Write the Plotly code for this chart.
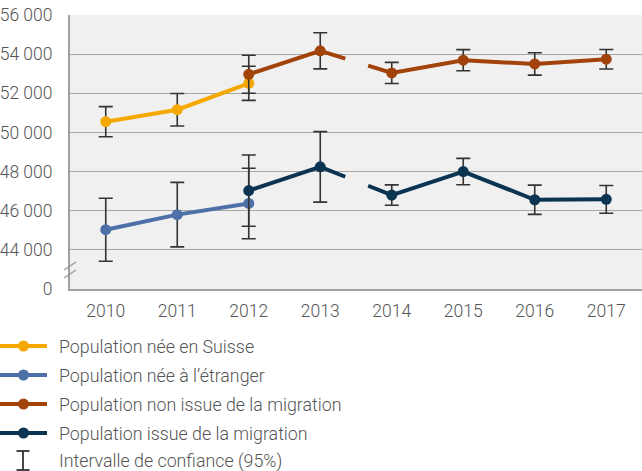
import plotly.graph_objects as go

# ---- data ----
years = ["2010", "2011", "2012", "2013", "2014", "2015", "2016", "2017"]
ytick_vals = [42000, 44000, 46000, 48000, 50000, 52000, 54000, 56000]
ytick_text = ["0", "44 000", "46 000", "48 000", "50 000", "52 000", "54 000", "56 000"]

names = [
    "Population née en Suisse",
    "Population née à l’étranger",
    "Population non issue de la migration",
    "Population issue de la migration",
]
ci_label = "Intervalle de confiance (95%)"

suisse_vals = [50550, 51160, 52510, None, None, None, None, None]
suisse_err = [770, 830, 870, None, None, None, None, None]
etranger_vals = [45030, 45800, 46370, None, None, None, None, None]
etranger_err = [1610, 1650, 1800, None, None, None, None, None]
non_migr_vals = [None, None, 52970, 54170, 53040, 53690, 53500, 53740]
non_migr_err = [None, None, 970, 925, 540, 540, 570, 500]
migr_vals = [None, None, 47030, 48240, 46800, 48000, 46560, 46580]
migr_err = [None, None, 1820, 1800, 520, 675, 745, 710]

colors = ["#F5A800", "#4D70A8", "#A1430A", "#0B3352"]
series = [
    (suisse_vals, suisse_err),
    (etranger_vals, etranger_err),
    (non_migr_vals, non_migr_err),
    (migr_vals, migr_err),
]

BREAK_AFTER = 3      # series break between 2013 and 2014
GAP = (0.35, 0.67)   # visible part of the broken segment

W, H = 642, 471
ML, MR, MT, MB = 70, 0, 15, 182
PW, PH = W - ML - MR, H - MT - MB


def px_x(px):
    return (px - ML) / PW


def px_y(py):
    return (H - MB - py) / PH


fig = go.Figure()

# lines (with series break)
for (vals, err), col in zip(series, colors):
    xs, ys = [], []
    for i, v in enumerate(vals):
        if v is None:
            continue
        xs.append(i)
        ys.append(v)
        if i == BREAK_AFTER and i + 1 < len(vals) and vals[i + 1] is not None:
            v2 = vals[i + 1]
            xs += [i + GAP[0], None, i + GAP[1]]
            ys += [v + GAP[0] * (v2 - v), None, v + GAP[1] * (v2 - v)]
    fig.add_trace(go.Scatter(x=xs, y=ys, mode="lines",
                             line=dict(color=col, width=4),
                             showlegend=False, hoverinfo="skip"))

# markers with confidence intervals
for (vals, err), col, nm in zip(series, colors, names):
    xs = [i for i, v in enumerate(vals) if v is not None]
    fig.add_trace(go.Scatter(
        x=xs, y=[vals[i] for i in xs], mode="markers", name=nm,
        marker=dict(color=col, size=11),
        error_y=dict(type="data", array=[err[i] for i in xs], visible=True,
                     color="#333333", thickness=1.6, width=7),
        showlegend=False))

shapes = []
annotations = []
font_col = "#555555"
FONT = dict(family="Roboto", size=17.5, color=font_col, weight=300)
LFONT = dict(family="Roboto", size=17.8, color=font_col, weight=300)
# manual legend
leg_y = [346, 375, 404, 433]
for nm, col, yy in zip(names, colors, leg_y):
    shapes.append(dict(type="line", xref="paper", yref="paper",
                       x0=px_x(0), x1=px_x(47), y0=px_y(yy), y1=px_y(yy),
                       line=dict(color=col, width=4)))
    shapes.append(dict(type="circle", xref="paper", yref="paper",
                       x0=px_x(18), x1=px_x(29), y0=px_y(yy - 5.5), y1=px_y(yy + 5.5),
                       fillcolor=col, line=dict(width=0)))
    annotations.append(dict(text=nm, xref="paper", yref="paper", x=px_x(57), y=px_y(yy),
                            xanchor="left", yanchor="middle", showarrow=False,
                            font=LFONT))
# CI legend symbol
ci_y = 461
shapes += [
    dict(type="line", xref="paper", yref="paper", x0=px_x(23), x1=px_x(23),
         y0=px_y(451), y1=px_y(470), line=dict(color="#333333", width=1.8)),
    dict(type="line", xref="paper", yref="paper", x0=px_x(16.5), x1=px_x(29.5),
         y0=px_y(451), y1=px_y(451), line=dict(color="#333333", width=1.8)),
    dict(type="line", xref="paper", yref="paper", x0=px_x(16.5), x1=px_x(29.5),
         y0=px_y(470), y1=px_y(470), line=dict(color="#333333", width=1.8)),
]
annotations.append(dict(text=ci_label, xref="paper", yref="paper", x=px_x(57), y=px_y(ci_y),
                        xanchor="left", yanchor="middle", showarrow=False,
                        font=LFONT))
# axis break marks
for dy in (0, 8):
    shapes.append(dict(type="line", xref="paper", yref="paper",
                       x0=px_x(64), x1=px_x(76), y0=px_y(270 + dy), y1=px_y(262 + dy),
                       line=dict(color="#9A9A9A", width=1.3)))

fig.update_layout(
    width=W, height=H,
    margin=dict(l=ML, r=MR, t=MT, b=MB),
    paper_bgcolor="white", plot_bgcolor="#F0F0F0",
    font=FONT,
    shapes=shapes, annotations=annotations,
    showlegend=False,
)
fig.update_xaxes(range=[-0.5, 7.5], tickmode="array", tickvals=list(range(len(years))),
                 ticktext=years, showgrid=False, zeroline=False,
                 showline=True, linecolor="#A0A0A0", linewidth=2,
                 ticks="", ticklabelstandoff=5, tickfont=FONT)
fig.update_yaxes(range=[42000, 56000], tickmode="array", tickvals=ytick_vals,
                 ticktext=ytick_text, showgrid=True, gridcolor="#A6A6A6", gridwidth=1,
                 zeroline=False, showline=True, linecolor="#A0A0A0", linewidth=2,
                 ticks="", ticklabelstandoff=12, tickfont=FONT)

fig.write_html("out.html", config={"displayModeBar": False},
               post_script="document.body.style.margin='0';")
